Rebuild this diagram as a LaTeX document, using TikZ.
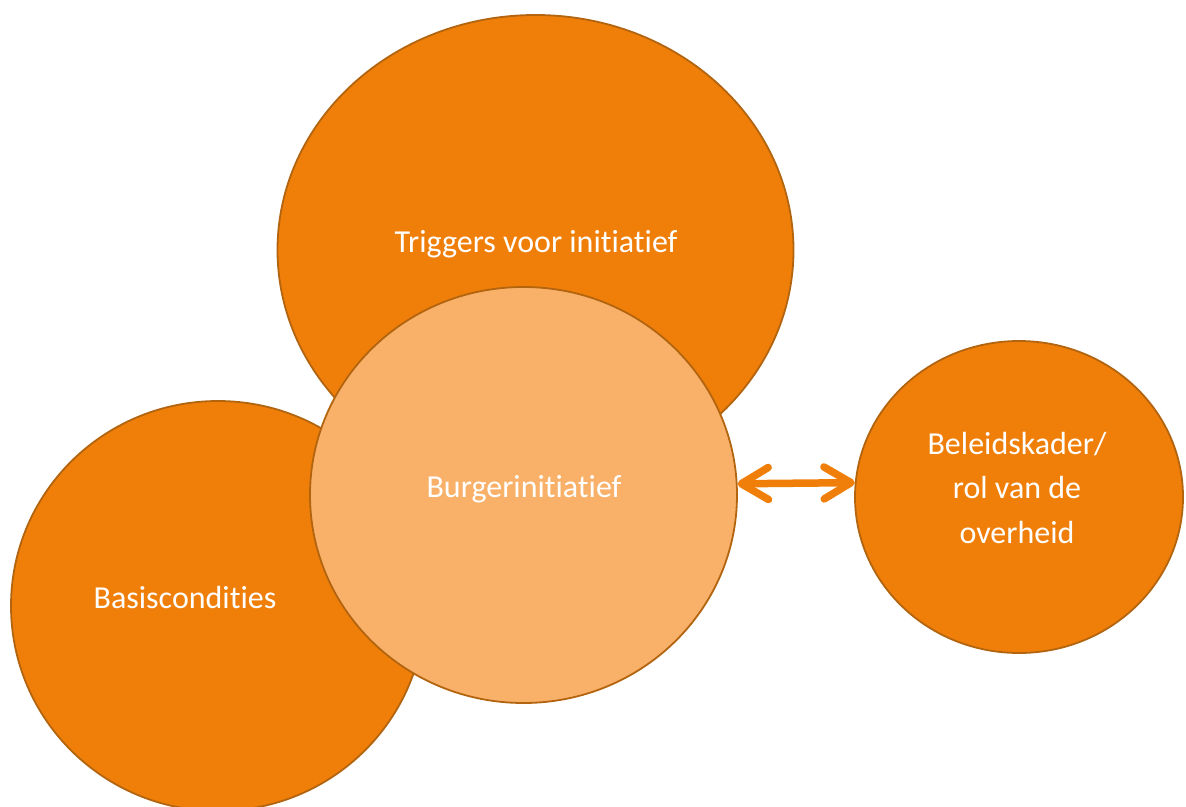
\documentclass[tikz,border=0pt]{standalone}
\usepackage{fontspec}
\setmainfont{Carlito}[Ligatures={NoCommon}]
\usetikzlibrary{shapes.geometric,arrows.meta}
\definecolor{orfill}{HTML}{F07F09}
\definecolor{orline}{HTML}{B3640F}
\definecolor{lightfill}{HTML}{F9B16A}
\tikzset{
  blob/.style={ellipse, draw=orline, line width=1.8pt, inner sep=0pt, fill=orfill},
  lightblob/.style={blob, fill=lightfill},
  lbl/.style={text=white, font=\fontsize{32}{44.5}\selectfont, anchor=base, align=center},
  dblarrow/.style={draw=orfill, line width=7.5pt,
    {Straight Barb[length=27pt,width=32pt,round]}-{Straight Barb[length=27pt,width=32pt,round]}}
}
\begin{document}
\begin{tikzpicture}[x=1pt,y=-1pt]
\useasboundingbox (0,0) rectangle (1186,806);
\node[blob, minimum width=516pt, minimum height=470pt] (trig) at (535.5,250) {};
\node[blob, minimum width=414pt, minimum height=410pt] (basis) at (218,606) {};
\node[lightblob, minimum width=427pt, minimum height=416pt] (burger) at (523.5,495) {};
\node[blob, minimum width=328pt, minimum height=312pt] (beleid) at (1019,497) {};
\node[lbl] (trigtxt) at (536,252) {Triggers voor initiatief};
\node[lbl] (basistxt) at (185,608) {Basiscondities};
\node[lbl] (burgertxt) at (524,497) {Burgerinitiatief};
\node[lbl] (beleidtxt) at (1017,543) {Beleidskader/\\rol van de\\overheid};
\draw[dblarrow] (burger.3.1) -- (beleid.175.8);
\end{tikzpicture}
\end{document}
